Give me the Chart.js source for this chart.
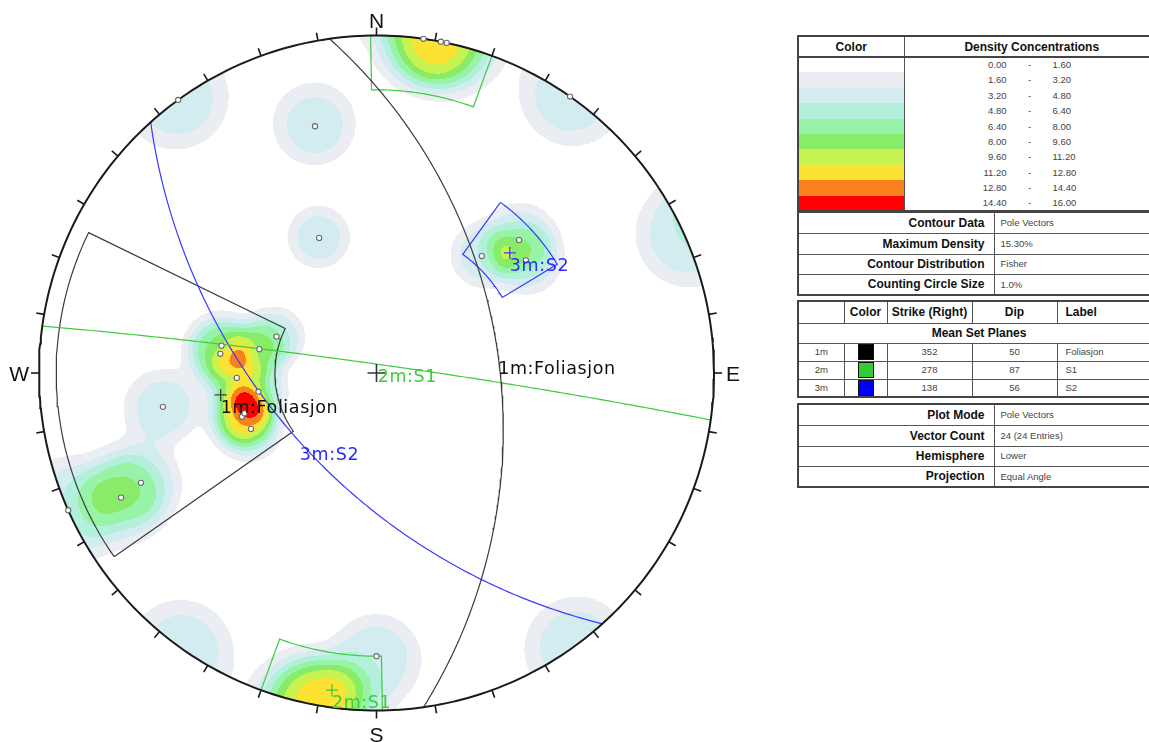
<!DOCTYPE html>
<html>
<head>
<meta charset="utf-8">
<title>Stereonet – Pole Vectors</title>
<script src="https://cdn.jsdelivr.net/npm/chart.js@4.4.1/dist/chart.umd.min.js"></script>
<style>
  html, body { margin:0; padding:0; background:#fff; width:1149px; height:742px; overflow:hidden; }
  #net { position:absolute; left:0; top:0; }
  table.box { position:absolute; left:797px; width:362px; border-collapse:collapse; table-layout:fixed;
    font-family:"Liberation Sans", Arial, sans-serif; color:#111; border:2px solid #444; }
  table.box td, table.box th { padding:0; border:1px solid #555; white-space:nowrap; overflow:hidden; line-height:1; }
  table.box th { font-size:12px; font-weight:bold; text-align:center; }
  table.box th.l { text-align:left; padding-left:8px; }
  tr.hd th { border-bottom:2px solid #444; }
  tr.lv td { border-top:none; border-bottom:none; }
  td.rng { font-size:9.5px; color:#444; }
  td.rng span { display:inline-block; }
  .lo { width:102px; text-align:right; }
  .dash { width:46px; text-align:center; }
  .lbl { font-weight:bold; font-size:12px; text-align:right; padding-right:9px !important; }
  .val { font-size:9.5px; color:#444; padding-left:6px !important; }
  .c { text-align:center; font-size:9.5px; color:#444; }
  td.l { text-align:left; font-size:9.5px; color:#444; padding-left:8px !important; }
  .sw { display:inline-block; width:14px; height:14px; border:1px solid #111; vertical-align:middle; }
</style>
</head>
<body>
<canvas id="net" width="790" height="742"></canvas>
<table class="box" id="t1" style="top:35px"></table>
<table class="box" id="t2" style="top:211px"></table>
<table class="box" id="t3" style="top:300px"></table>
<table class="box" id="t4" style="top:403px"></table>
<script>
// ---- Pole vectors: trend / plunge in degrees (lower hemisphere) ----
const poleTrend  = [324, 346, 8, 11, 12, 35, 337, 42, 47, 53, 290, 280, 281.5, 277, 268, 261, 252, 253, 246, 261, 245, 244, 246, 180];
const polePlunge = [0, 16, 0, 0, 0, 0, 43, 40, 30, 32, 55, 40, 51, 40, 45, 51, 44.5, 45.5, 45.7, 24.7, 14.8, 9.8, 0, 10];

// ---- Mean set planes (strike right-hand rule / dip) ----
const setIds     = ['1m', '2m', '3m'];
const setLabels  = ['Foliasjon', 'S1', 'S2'];
const setStrike  = [352, 278, 138];
const setDip     = [50, 87, 56];
const setSwatch  = ['#000000', '#33cc33', '#0000ff'];
const setLine    = ['#3c3c3c', '#3ccc3c', '#3a3aff'];
const setText    = ['#111111', '#3ccc3c', '#2a2aff'];

// ---- Set windows (trend range, plunge range) ----
const windowSet        = [0, 1, 1, 2];
const windowTrendFrom  = [235, -1, 179, 36];
const windowTrendTo    = [296, 20, 200, 59];
const windowPlungeFrom = [3, 0, 0, 26];
const windowPlungeTo   = [56.5, 10, 10, 43];

// ---- Density contour levels (%) ----
const levelFrom   = [0.00, 1.60, 3.20, 4.80, 6.40, 8.00, 9.60, 11.20, 12.80, 14.40];
const levelTo     = [1.60, 3.20, 4.80, 6.40, 8.00, 9.60, 11.20, 12.80, 14.40, 16.00];
const levelColors = ['#ffffff', '#eaedf2', '#d3ecf0', '#b3f0dc', '#96f3a8', '#88ec68', '#c8f250', '#fce232', '#fa821e', '#ff0000'];

// ---- Legend tables ----
const infoLabels = ['Contour Data', 'Maximum Density', 'Contour Distribution', 'Counting Circle Size'];
const infoValues = ['Pole Vectors', '15.30%', 'Fisher', '1.0%'];
const plotLabels = ['Plot Mode', 'Vector Count', 'Hemisphere', 'Projection'];
const plotValues = ['Pole Vectors', poleTrend.length + ' (' + poleTrend.length + ' Entries)', 'Lower', 'Equal Angle'];

const D = Math.PI / 180;
// Fisher-smoothed 1% counting circle: half-angle and edge softness (degrees)
const countHalfAngle = 8.1, countSoftness = 1.7;

function dirVec(trend, plunge) {
  const t = trend * D, p = plunge * D;
  return [Math.cos(p) * Math.sin(t), Math.cos(p) * Math.cos(t), Math.sin(p)];
}
// Equal-angle (stereographic) projection of a lower-hemisphere vector
function proj(v) { return { x: v[0] / (1 + v[2]), y: v[1] / (1 + v[2]) }; }
function project(trend, plunge) { return proj(dirVec(trend, plunge)); }

function greatCircle(strike, dip) {
  const dd = (strike + 90) * D, s = strike * D, d = dip * D;
  const sv = [Math.sin(s), Math.cos(s), 0];
  const dv = [Math.sin(dd) * Math.cos(d), Math.cos(dd) * Math.cos(d), Math.sin(d)];
  const pts = [];
  for (let a = 0; a <= 180; a += 1) {
    const c = Math.cos(a * D), si = Math.sin(a * D);
    pts.push(proj([c * sv[0] + si * dv[0], c * sv[1] + si * dv[1], c * sv[2] + si * dv[2]]));
  }
  return pts;
}
function windowOutline(i) {
  const t1 = windowTrendFrom[i], t2 = windowTrendTo[i];
  const p1 = windowPlungeFrom[i], p2 = windowPlungeTo[i];
  const pts = [];
  for (let t = t1; t <= t2 + 1e-9; t += (t2 - t1) / 40) pts.push(project(t, p1));
  for (let t = t2; t >= t1 - 1e-9; t -= (t2 - t1) / 40) pts.push(project(t, p2));
  pts.push(pts[0]);
  return pts;
}
const primitive = [];
for (let a = 0; a <= 360; a += 1) primitive.push(project(a, 0));

const poles = poleTrend.map((t, i) => project(t, polePlunge[i]));
const meanPoles = setStrike.map((s, i) => project(s + 270, 90 - setDip[i]));
const planeMids = setStrike.map((s, i) => project(s + 90, setDip[i]));

function levelColor(v) {
  let k = -1;
  for (let i = 1; i < levelFrom.length; i++) if (v >= levelFrom[i]) k = i;
  return k < 0 ? null : levelColors[k];
}

// Density shading, evaluated per pixel through the chart scales
const densityPlugin = {
  id: 'density',
  beforeDatasetsDraw(chart) {
    const { ctx, chartArea: a, scales: { x, y } } = chart;
    const vecs = poleTrend.map((t, i) => dirVec(t, polePlunge[i]));
    const n = vecs.length, cutoff = Math.cos(25 * D);
    ctx.save();
    for (let py = Math.floor(a.top); py < Math.ceil(a.bottom); py++) {
      let runCol = null, runStart = 0;
      const v = y.getValueForPixel(py + 0.5);
      for (let px = Math.floor(a.left); px <= Math.ceil(a.right); px++) {
        const u = x.getValueForPixel(px + 0.5);
        const rr = u * u + v * v;
        let col = null;
        if (rr <= 1) {
          const k = 2 / (1 + rr), e = u * k, nn = v * k, d = (1 - rr) / (1 + rr);
          let s = 0;
          for (let j = 0; j < n; j++) {
            const p = vecs[j];
            const c = Math.abs(p[0] * e + p[1] * nn + p[2] * d);
            if (c < cutoff) continue;
            const th = Math.acos(Math.min(1, c)) / D;
            s += 1 / (1 + Math.exp((th - countHalfAngle) / countSoftness));
          }
          col = levelColor(100 * s / n);
        }
        if (col !== runCol) {
          if (runCol) { ctx.fillStyle = runCol; ctx.fillRect(runStart, py, px - runStart, 1); }
          runCol = col; runStart = px;
        }
      }
      if (runCol) { ctx.fillStyle = runCol; ctx.fillRect(runStart, py, Math.ceil(a.right) + 1 - runStart, 1); }
    }
    ctx.restore();
  }
};

// Rim ticks, compass letters and set labels
const overlayPlugin = {
  id: 'overlay',
  afterDatasetsDraw(chart) {
    const { ctx, scales: { x, y } } = chart;
    const px = p => ({ x: x.getPixelForValue(p.x), y: y.getPixelForValue(p.y) });
    ctx.save();
    ctx.strokeStyle = '#1a1a1a';
    ctx.lineWidth = 1.6;
    for (let az = 0; az < 360; az += 10) {
      const p = px(project(az, 0));
      const dx = Math.sin(az * D), dy = -Math.cos(az * D);
      ctx.beginPath();
      ctx.moveTo(p.x, p.y);
      ctx.lineTo(p.x + 8 * dx, p.y + 8 * dy);
      ctx.stroke();
    }
    ctx.fillStyle = '#111';
    ctx.font = '21px "Liberation Sans", Arial, sans-serif';
    const n = px(project(0, 0)), s = px(project(180, 0)), w = px(project(270, 0)), e = px(project(90, 0));
    ctx.textBaseline = 'alphabetic';
    ctx.textAlign = 'center';
    ctx.fillText('N', n.x, n.y - 8);
    ctx.fillText('S', s.x, s.y + 31);
    ctx.textAlign = 'right';
    ctx.fillText('W', w.x - 10, w.y + 8);
    ctx.textAlign = 'left';
    ctx.fillText('E', e.x + 12, e.y + 8);

    ctx.font = '17.5px "DejaVu Sans", Verdana, sans-serif';
    ctx.letterSpacing = '0.6px';
    ctx.textAlign = 'left';
    setIds.forEach((id, i) => {
      ctx.fillStyle = setText[i];
      const t = id + ':' + setLabels[i];
      const a = px(meanPoles[i]), b = px(planeMids[i]);
      ctx.fillText(t, a.x, a.y + 18);
      ctx.fillText(t, b.x, b.y + 18);
    });
    ctx.restore();
  }
};

const datasets = [];
windowSet.forEach((si, i) => datasets.push({
  data: windowOutline(i), showLine: true, pointRadius: 0, borderColor: setLine[si],
  borderWidth: 1.2, fill: false, order: 6, clip: false
}));
setStrike.forEach((st, i) => datasets.push({
  data: greatCircle(st, setDip[i]), showLine: true, pointRadius: 0, borderColor: setLine[i],
  borderWidth: 1.2, fill: false, order: 5, clip: false
}));
datasets.push({ data: primitive, showLine: true, pointRadius: 0, borderColor: '#1a1a1a', borderWidth: 2, fill: false, order: 4, clip: false });
datasets.push({ data: poles, showLine: false, pointRadius: 2.6, pointBackgroundColor: '#ffffff', pointBorderColor: '#6a6a6a', pointBorderWidth: 1.1, order: 3, clip: false });
setIds.forEach((id, i) => datasets.push({
  data: [meanPoles[i]], showLine: false, pointStyle: 'cross', pointRadius: 6, pointBorderColor: setLine[i],
  pointBorderWidth: 1.3, order: 2, clip: false
}));
datasets.push({ data: [{ x: 0, y: 0 }], showLine: false, pointStyle: 'cross', pointRadius: 9, pointBorderColor: '#333', pointBorderWidth: 1.6, order: 1, clip: false });

new Chart(document.getElementById('net'), {
  type: 'scatter',
  data: { datasets },
  options: {
    responsive: false,
    devicePixelRatio: 1,
    animation: false,
    events: [],
    layout: { padding: { left: 39, right: 76, top: 35.5, bottom: 31.5 } },
    scales: {
      x: { type: 'linear', min: -1, max: 1, display: false },
      y: { type: 'linear', min: -1, max: 1, display: false }
    },
    plugins: { legend: { display: false }, tooltip: { enabled: false } }
  },
  plugins: [densityPlugin, overlayPlugin]
});

// ---- Legend tables ----
(function () {
  let h = '<colgroup><col style="width:106px"><col style="width:256px"></colgroup>';
  h += '<tr class="hd" style="height:21px"><th>Color</th><th>Density Concentrations</th></tr>';
  levelFrom.forEach((lo, i) => {
    h += '<tr class="lv" style="height:15.4px"><td style="background:' + levelColors[i] + '"></td>' +
      '<td class="rng"><span class="lo">' + lo.toFixed(2) + '</span><span class="dash">-</span><span>' +
      levelTo[i].toFixed(2) + '</span></td></tr>';
  });
  document.getElementById('t1').innerHTML = h;

  const info = (labels, values, heights) => '<colgroup><col style="width:196px"><col style="width:166px"></colgroup>' +
    labels.map((l, i) => '<tr style="height:' + heights[i] + 'px"><td class="lbl">' + l + '</td><td class="val">' + values[i] + '</td></tr>').join('');
  document.getElementById('t2').innerHTML = info(infoLabels, infoValues, [21, 21, 20, 21]);
  document.getElementById('t4').innerHTML = info(plotLabels, plotValues, [21, 21, 20, 21]);

  let s = '<colgroup><col style="width:46px"><col style="width:43px"><col style="width:85px"><col style="width:85px"><col style="width:103px"></colgroup>';
  s += '<tr style="height:22px"><th></th><th>Color</th><th>Strike (Right)</th><th>Dip</th><th class="l">Label</th></tr>';
  s += '<tr style="height:20px"><th colspan="5">Mean Set Planes</th></tr>';
  setIds.forEach((id, i) => {
    s += '<tr style="height:18px"><td class="c">' + id + '</td><td class="c"><span class="sw" style="background:' + setSwatch[i] +
      '"></span></td><td class="c">' + setStrike[i] + '</td><td class="c">' + setDip[i] + '</td><td class="l">' + setLabels[i] + '</td></tr>';
  });
  document.getElementById('t3').innerHTML = s;
})();
</script>
</body>
</html>
